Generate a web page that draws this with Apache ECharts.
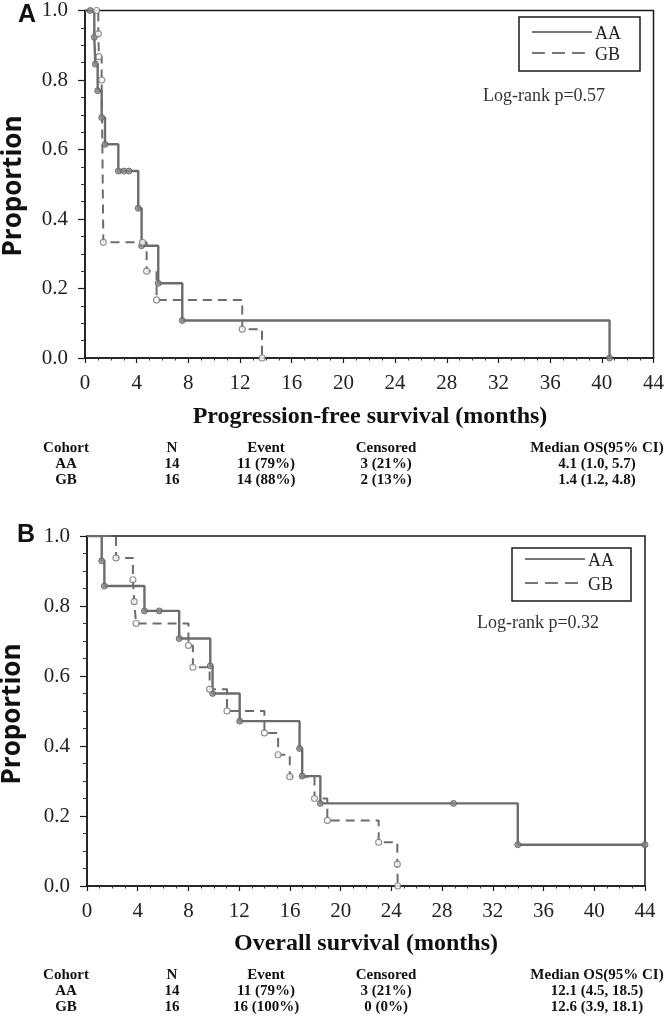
<!DOCTYPE html>
<html><head><meta charset="utf-8">
<script src="https://cdn.jsdelivr.net/npm/echarts@6/dist/echarts.min.js"></script>
<style>html,body{margin:0;padding:0;background:#fff}#c{width:667px;height:1020px}</style>
</head><body><div id="c"></div>
<script>
// ---------- DATA ----------
const cohorts = ['AA', 'GB'];
// Panel A: progression-free survival, Kaplan–Meier step points (months, proportion)
const aaPfsTime = [0, 0.72, 0.80, 0.98, 1.29, 1.55, 2.58, 4.12, 4.38, 5.67, 7.53, 40.6];
const aaPfsSurv = [1, 0.923, 0.846, 0.769, 0.692, 0.615, 0.538, 0.431, 0.323, 0.215, 0.108, 0];
const aaPfsCensTime = [0.4, 3.0, 3.4];
const aaPfsCensSurv = [1, 0.538, 0.538];
const gbPfsTime = [0, 1.03, 1.08, 1.29, 1.42, 4.77, 5.54, 12.17, 13.7];
const gbPfsSurv = [1, 0.933, 0.867, 0.8, 0.333, 0.25, 0.167, 0.083, 0];
const gbPfsCensTime = [0.9, 4.45];
const gbPfsCensSurv = [1, 0.333];
// Panel B: overall survival
const aaOsTime = [0, 1.16, 1.37, 4.53, 7.27, 9.72, 9.9, 12.04, 16.76, 16.97, 18.4, 33.97, 44];
const aaOsSurv = [1, 0.929, 0.857, 0.786, 0.707, 0.629, 0.550, 0.471, 0.393, 0.314, 0.236, 0.118, 0.118];
const aaOsCensTime = [5.7, 28.9, 44];
const aaOsCensSurv = [0.786, 0.236, 0.118];
const gbOsTime = [0, 2.29, 3.62, 3.72, 3.87, 8.0, 8.35, 9.67, 11.04, 13.99, 15.07, 15.99, 17.94, 18.95, 23.0, 24.47, 24.5];
const gbOsSurv = [1, 0.9375, 0.875, 0.8125, 0.75, 0.6875, 0.625, 0.5625, 0.5, 0.4375, 0.375, 0.3125, 0.25, 0.1875, 0.125, 0.0625, 0];
// axis ticks
const xMax = 44, xStep = 4;
const yMax = 1, yStep = 0.2;
// texts
const pfsTitle = 'Progression-free survival (months)';
const osTitle = 'Overall survival (months)';
const yTitle = 'Proportion';
const pfsLogRank = 'Log-rank p=0.57';
const osLogRank = 'Log-rank p=0.32';
const tableHeader = ['Cohort', 'N', 'Event', 'Censored', 'Median OS(95% CI)'];
const pfsRowAA = ['AA', '14', '11 (79%)', '3 (21%)', '4.1 (1.0, 5.7)'];
const pfsRowGB = ['GB', '16', '14 (88%)', '2 (13%)', '1.4 (1.2, 4.8)'];
const osRowAA = ['AA', '14', '11 (79%)', '3 (21%)', '12.1 (4.5, 18.5)'];
const osRowGB = ['GB', '16', '16 (100%)', '0 (0%)', '12.6 (3.9, 18.1)'];

// ---------- STYLE / LAYOUT ----------
const LINE = '#6c6c6c';
const SERIF = '"Liberation Serif", "Times New Roman", serif';
const SANS = '"Open Sans", "Liberation Sans", sans-serif';
const grids = [
  {left: 85, top: 9, width: 570, height: 349},
  {left: 87, top: 536, width: 558, height: 350}
];
const pairs = (t, s) => t.map((x, i) => [x, s[i]]);

function axesFor(i) {
  const x = {
    gridIndex: i, type: 'value', min: 0, max: xMax, interval: xStep,
    axisLine: {onZero: false, lineStyle: {color: '#1a1a1a', width: 1.5}},
    axisTick: {show: true, inside: false, length: 5, lineStyle: {color: '#1a1a1a', width: 1.2}},
    minorTick: {show: true, splitNumber: 4, length: 2.5, lineStyle: {color: '#333', width: 1}},
    axisLabel: {fontFamily: SERIF, fontSize: 21, color: '#222', margin: 15},
    splitLine: {show: false}
  };
  const y = {
    gridIndex: i, type: 'value', min: 0, max: yMax, interval: yStep,
    axisLine: {onZero: false, lineStyle: {color: '#1a1a1a', width: 1.5}},
    axisTick: {show: true, inside: false, length: 7, lineStyle: {color: '#1a1a1a', width: 1.2}},
    minorTick: {show: true, splitNumber: 4, length: 4, lineStyle: {color: '#333', width: 1}},
    axisLabel: {fontFamily: SERIF, fontSize: 21, color: '#222', margin: 17, formatter: v => v.toFixed(1)},
    splitLine: {show: false}
  };
  return [x, y];
}
const ax0 = axesFor(0), ax1 = axesFor(1);

function kmLine(name, t, s, idx, dashed) {
  return {
    name, type: 'line', step: 'end', xAxisIndex: idx, yAxisIndex: idx,
    data: pairs(t, s), symbol: 'none', silent: true, z: 3,
    lineStyle: {color: LINE, width: dashed ? 2 : 2.4, type: dashed ? [9, 6] : 'solid'}
  };
}
function marks(t, s, idx, hollow) {
  return {
    type: 'scatter', xAxisIndex: idx, yAxisIndex: idx, data: pairs(t, s),
    symbol: 'circle', symbolSize: 6, silent: true, z: 5,
    itemStyle: hollow ? {color: '#fff', borderColor: '#777', borderWidth: 1.2}
                      : {color: '#8a8a8a', borderColor: '#5e5e5e', borderWidth: 1}
  };
}

function textEl(text, x, y, font, align, fill, extra) {
  return Object.assign({
    type: 'text', x, y, silent: true, z: 11,
    style: {text, font, fill: fill || '#111', textAlign: align || 'center', textVerticalAlign: 'middle'}
  }, extra || {});
}
function legendBox(x, y, w, h, lx1, lx2, ya, yb, tx) {
  return [
    {type: 'rect', shape: {x, y, width: w, height: h}, style: {fill: '#fff', stroke: '#1a1a1a', lineWidth: 1.5}, z: 10},
    {type: 'line', shape: {x1: lx1, y1: ya, x2: lx2, y2: ya}, style: {stroke: '#777', lineWidth: 2}, z: 11},
    {type: 'line', shape: {x1: lx1, y1: yb, x2: lx2, y2: yb}, style: {stroke: '#777', lineWidth: 2, lineDash: [13, 7]}, z: 11},
    textEl(cohorts[0], tx, ya + 2, '18px ' + SERIF, 'left', '#222'),
    textEl(cohorts[1], tx, yb + 2, '18px ' + SERIF, 'left', '#222')
  ];
}
const colX = [66, 172, 266, 386, 597];
function tableEls(rows, ys) {
  const out = [];
  rows.forEach((r, ri) => r.forEach((c, ci) => {
    out.push(textEl(c, colX[ci], ys[ri], 'bold 15px ' + SERIF, 'center'));
  }));
  return out;
}

const graphics = [].concat(
  [textEl('A', 27, 15, 'bold 25px "Liberation Sans", Arial, sans-serif', 'center'),
   textEl('B', 26, 535, 'bold 25px "Liberation Sans", Arial, sans-serif', 'center'),
   textEl(yTitle, 14, 186, 'bold 26px ' + SANS, 'center', '#111', {rotation: Math.PI / 2}),
   textEl(yTitle, 13, 714, 'bold 26px ' + SANS, 'center', '#111', {rotation: Math.PI / 2}),
   textEl(pfsTitle, 370, 417, 'bold 24px ' + SERIF, 'center'),
   textEl(osTitle, 366, 944, 'bold 24px ' + SERIF, 'center'),
   textEl(pfsLogRank, 483, 96, '18px ' + SERIF, 'left', '#333'),
   textEl(osLogRank, 477, 623, '18px ' + SERIF, 'left', '#333')
  ],
  legendBox(519, 17, 121, 54, 532, 592, 32, 53, 595),
  legendBox(512, 548, 119, 53, 525, 585, 559, 583, 588),
  tableEls([tableHeader, pfsRowAA, pfsRowGB], [448, 464, 480]),
  tableEls([tableHeader, osRowAA, osRowGB], [975, 991, 1007])
);

const chart = echarts.init(document.getElementById('c'), null, {renderer: 'canvas'});
chart.setOption({
  animation: false,
  backgroundColor: '#fff',
  grid: grids.map(g => Object.assign({show: true, borderColor: '#1a1a1a', borderWidth: 1.5, backgroundColor: 'transparent', containLabel: false}, g)),
  xAxis: [ax0[0], ax1[0]],
  yAxis: [ax0[1], ax1[1]],
  series: [
    kmLine('AA', aaPfsTime, aaPfsSurv, 0, false),
    kmLine('GB', gbPfsTime, gbPfsSurv, 0, true),
    marks(aaPfsTime.slice(1), aaPfsSurv.slice(1), 0, false),
    marks(aaPfsCensTime, aaPfsCensSurv, 0, false),
    marks(gbPfsTime.slice(1), gbPfsSurv.slice(1), 0, true),
    marks(gbPfsCensTime, gbPfsCensSurv, 0, true),
    kmLine('AA', aaOsTime, aaOsSurv, 1, false),
    kmLine('GB', gbOsTime, gbOsSurv, 1, true),
    marks(aaOsTime.slice(1, -1), aaOsSurv.slice(1, -1), 1, false),
    marks(aaOsCensTime, aaOsCensSurv, 1, false),
    marks(gbOsTime.slice(1), gbOsSurv.slice(1), 1, true)
  ],
  graphic: graphics
});
</script></body></html>
